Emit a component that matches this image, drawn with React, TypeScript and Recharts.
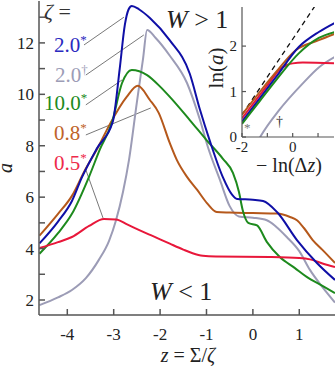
import React from "react";
import { LineChart, Line, XAxis, YAxis, ReferenceLine, CartesianGrid } from "recharts";

// main panel: a vs z = Sigma/zeta
const zBlue = [-4.6, -4.2, -3.9, -3.69, -3.36, -3.02, -2.87, -2.76, -2.68, -2.61, -2.45, -2.22, -1.79, -1.36, -1.14, -0.93, -0.65, -0.45, -0.34, 0.0, 0.22, 0.52, 0.95, 1.38, 1.77];
const aBlue = [4.2, 5.05, 5.85, 6.75, 7.9, 8.93, 11.0, 12.7, 13.3, 13.44, 13.3, 12.97, 12.1, 10.8, 9.4, 8.2, 6.79, 6.1, 5.93, 5.9, 5.85, 5.42, 4.33, 3.44, 2.78];

const zGrey = [-4.6, -4.2, -3.9, -3.6, -3.32, -3.1, -2.95, -2.8, -2.67, -2.5, -2.37, -2.28, -2.1, -1.79, -1.42, -1.14, -0.97, -0.71, -0.5, -0.3, 0.0, 0.3, 0.5, 0.73, 1.0, 1.23, 1.5, 1.77];
const aGrey = [1.8, 2.1, 2.39, 2.85, 3.56, 4.3, 5.1, 6.2, 7.45, 9.7, 11.35, 12.5, 12.2, 11.5, 10.44, 9.0, 7.95, 6.67, 5.65, 5.25, 5.2, 5.1, 4.85, 4.45, 3.9, 3.17, 2.5, 1.9];

const zGreen = [-4.6, -4.2, -3.9, -3.53, -3.3, -3.04, -2.82, -2.61, -2.28, -2.0, -1.79, -1.36, -0.99, -0.65, -0.43, -0.3, -0.22, -0.1, 0.09, 0.3, 0.58, 0.9, 1.16, 1.5, 1.77];
const aGreen = [3.8, 4.6, 5.35, 6.8, 7.85, 8.89, 10.44, 10.95, 10.75, 10.3, 9.9, 9.0, 8.2, 7.5, 6.94, 6.2, 5.5, 5.0, 4.9, 4.26, 3.67, 3.25, 2.9, 2.55, 2.27];

const zBrown = [-4.6, -4.2, -3.9, -3.62, -3.32, -3.08, -2.72, -2.48, -2.22, -2.03, -1.79, -1.64, -1.42, -1.2, -0.99, -0.78, -0.5, 0.0, 0.52, 0.8, 0.95, 1.1, 1.29, 1.5, 1.77];
const aBrown = [4.5, 5.35, 6.05, 7.05, 8.0, 8.85, 9.9, 10.33, 9.78, 9.28, 8.1, 7.45, 6.79, 6.28, 5.77, 5.42, 5.4, 5.38, 5.36, 5.23, 5.1, 4.8, 4.33, 3.95, 3.44];

const zRed = [-4.6, -4.2, -3.9, -3.53, -3.21, -2.95, -2.7, -2.46, -2.2, -2.0, -1.79, -1.5, -1.3, -1.08, -0.8, 0.37, 1.0, 1.23, 1.5, 1.77];
const aRed = [4.02, 4.25, 4.45, 4.88, 5.15, 5.13, 4.93, 4.73, 4.52, 4.36, 4.19, 3.96, 3.82, 3.72, 3.69, 3.67, 3.63, 3.58, 3.42, 3.28];

const xTicks = [-4, -3, -2, -1, 0, 1];
const yTicks = [2, 3, 4, 5, 6, 7, 8, 9, 10, 11, 12, 13];

// inset: ln(a) vs -ln(dz)
const ixRef = [-2, 0.9];
const iyRef = [0.49, 2.9];
const ixBlue = [-2, -1.3, -0.67, 0.24, 1.03, 1.66];
const iyBlue = [0.34, 0.85, 1.31, 1.98, 2.31, 2.51];
const ixBrown = [-2, -1.3, -0.67, 0.12, 1.03, 1.66];
const iyBrown = [0.49, 0.99, 1.42, 1.91, 2.13, 2.27];
const ixGreen = [-2, -1.3, -0.67, 0.24, 1.03, 1.66];
const iyGreen = [0.29, 0.79, 1.24, 1.84, 2.18, 2.31];
const ixRed = [-2, -1.3, -0.85, -0.55, -0.2, 0.0, 0.4, 1.66];
const iyRed = [0.41, 0.92, 1.25, 1.47, 1.59, 1.62, 1.64, 1.62];
const ixGrey = [-1.4, -1.26, -0.55, 0.4, 1.03, 1.66];
const iyGrey = [-0.12, 0.02, 0.58, 1.18, 1.53, 1.76];
const ixTicks = [-2, -1, 0, 1];
const iyTicks = [0, 1, 2];

const BLUE = "#0f0fa6";
const GREY = "#9c9cb6";
const GREEN = "#1d8a1d";
const BROWN = "#b5581b";
const RED = "#e8173a";
const AXIS = "#555";
const FONT = "'Liberation Serif', 'DejaVu Serif', serif";

const pts = (xs: number[], ys: number[]) => xs.map((x, i) => ({ x, y: ys[i] }));

const mainSeries = [
  { key: "grey", data: pts(zGrey, aGrey), color: GREY },
  { key: "brown", data: pts(zBrown, aBrown), color: BROWN },
  { key: "green", data: pts(zGreen, aGreen), color: GREEN },
  { key: "red", data: pts(zRed, aRed), color: RED },
  { key: "blue", data: pts(zBlue, aBlue), color: BLUE },
];

const insetSeries = [
  { key: "grey", data: pts(ixGrey, iyGrey), color: GREY },
  { key: "red", data: pts(ixRed, iyRed), color: RED },
  { key: "brown", data: pts(ixBrown, iyBrown), color: BROWN },
  { key: "blue", data: pts(ixBlue, iyBlue), color: BLUE },
  { key: "green", data: pts(ixGreen, iyGreen), color: GREEN },
];

// leader lines from the labels to the curves, in data units
const leaders = [
  [{ x: -3.64, y: 11.92 }, { x: -2.78, y: 13.0 }],
  [{ x: -3.6, y: 10.75 }, { x: -2.35, y: 12.31 }],
  [{ x: -3.6, y: 9.59 }, { x: -2.82, y: 10.56 }],
  [{ x: -3.6, y: 8.42 }, { x: -2.2, y: 9.47 }],
  [{ x: -3.6, y: 7.06 }, { x: -3.23, y: 5.19 }],
];

const tickStyle = { fontFamily: FONT, fontSize: 17, fill: "#222" };
const itickStyle = { fontFamily: FONT, fontSize: 15, fill: "#222" };

function Label({ x, y, color, main, sup }: { x: number; y: number; color: string; main: string; sup: string }) {
  return (
    <text x={x} y={y} fill={color} fontFamily={FONT} fontSize={21}>
      {main}
      <tspan dy={-8} fontSize={13}>{sup}</tspan>
    </text>
  );
}

export default function App() {
  return (
    <div style={{ position: "relative", width: 336, height: 367 }}>
      <style>{"body{margin:0}"}</style>
      <LineChart width={336} height={367} margin={{ top: 1, right: 1, bottom: 0, left: 0 }}>
        <XAxis
          dataKey="x"
          type="number"
          domain={[-4.61, 1.77]}
          allowDataOverflow
          ticks={xTicks}
          tickFormatter={(v) => String(v)}
          height={52}
          stroke={AXIS}
          strokeWidth={1.5}
          tickSize={-6}
          tickMargin={19}
          tick={tickStyle}
        />
        <XAxis
          xAxisId="top"
          orientation="top"
          dataKey="x"
          type="number"
          domain={[-4.61, 1.77]}
          allowDataOverflow
          ticks={xTicks}
          height={0}
          stroke={AXIS}
          strokeWidth={1.5}
          tickSize={-5}
          tick={false}
        />
        <YAxis
          dataKey="y"
          type="number"
          domain={[1.416, 13.63]}
          allowDataOverflow
          ticks={yTicks}
          tickFormatter={(v) => (v % 2 === 0 ? String(v) : "")}
          width={39}
          stroke={AXIS}
          strokeWidth={1.5}
          tickSize={-6}
          tickMargin={11}
          tick={tickStyle}
        />
        {leaders.map((seg, i) => (
          <ReferenceLine key={i} segment={seg} stroke="#555" strokeWidth={0.8} ifOverflow="visible" />
        ))}
        {mainSeries.map((s) => (
          <Line
            key={s.key}
            data={s.data}
            dataKey="y"
            type="monotone"
            stroke={s.color}
            strokeWidth={2}
            dot={false}
            isAnimationActive={false}
          />
        ))}
      </LineChart>

      <div style={{ position: "absolute", left: 215, top: 0 }}>
        <LineChart width={121} height={175} margin={{ top: 7, right: 2, bottom: 0, left: 0 }}>
          <CartesianGrid horizontal={false} vertical={false} fill="#fff" />
          <XAxis
            dataKey="x"
            type="number"
            domain={[-2, 1.63]}
            allowDataOverflow
            ticks={ixTicks}
            tickFormatter={(v) => (v === -2 || v === 0 ? String(v) : "")}
            height={38}
            stroke={AXIS}
            strokeWidth={1.2}
            tickSize={-4}
            tickMargin={8}
            tick={itickStyle}
          />
          <XAxis
            xAxisId="top"
            orientation="top"
            dataKey="x"
            type="number"
            domain={[-2, 1.63]}
            allowDataOverflow
            ticks={ixTicks}
            height={0}
            stroke={AXIS}
            strokeWidth={1.2}
            tickSize={-4}
            tick={false}
          />
          <YAxis
            dataKey="y"
            type="number"
            domain={[0, 2.86]}
            allowDataOverflow
            ticks={iyTicks}
            width={27}
            stroke={AXIS}
            strokeWidth={1.2}
            tickSize={-4}
            tickMargin={9}
            tick={itickStyle}
          />
          <Line
            data={pts(ixRef, iyRef)}
            dataKey="y"
            type="linear"
            stroke="#111"
            strokeWidth={1.3}
            strokeDasharray="5 4"
            dot={false}
            isAnimationActive={false}
          />
          {insetSeries.map((s) => (
            <Line
              key={s.key}
              data={s.data}
              dataKey="y"
              type="monotone"
              stroke={s.color}
              strokeWidth={2}
              dot={false}
              isAnimationActive={false}
            />
          ))}
        </LineChart>
      </div>

      <svg width={336} height={367} style={{ position: "absolute", left: 0, top: 0, pointerEvents: "none" }}>
        <text x={44} y={19} fontFamily={FONT} fontSize={22} fill="#333">
          <tspan fontStyle="italic">ζ</tspan> =
        </text>
        <Label x={54} y={52} color="#2a2ac0" main="2.0" sup="*" />
        <Label x={55} y={82} color="#9c9cb6" main="2.0" sup="†" />
        <Label x={44} y={110} color="#1d8a1d" main="10.0" sup="*" />
        <Label x={54} y={140} color="#c0632a" main="0.8" sup="*" />
        <Label x={54} y={170} color="#ee2a4a" main="0.5" sup="*" />
        <text x={166} y={28} fontFamily={FONT} fontSize={26} fill="#222">
          <tspan fontStyle="italic">W</tspan> &gt; 1
        </text>
        <text x={150} y={300} fontFamily={FONT} fontSize={26} fill="#222">
          <tspan fontStyle="italic">W</tspan> &lt; 1
        </text>
        <text x={0} y={0} transform="translate(12,168) rotate(-90)" textAnchor="middle" fontFamily={FONT} fontSize={20} fontStyle="italic" fill="#222">
          a
        </text>
        <text x={188} y={362} textAnchor="middle" fontFamily={FONT} fontSize={20} fill="#222">
          <tspan fontStyle="italic">z</tspan> = Σ/<tspan fontStyle="italic">ζ</tspan>
        </text>
        <text x={0} y={0} transform="translate(223,68) rotate(-90)" textAnchor="middle" fontFamily={FONT} fontSize={21} fill="#222">
          ln(<tspan fontStyle="italic">a</tspan>)
        </text>
        <text x={289} y={172} textAnchor="middle" fontFamily={FONT} fontSize={20} fill="#222">
          − ln(Δ<tspan fontStyle="italic">z</tspan>)
        </text>
        <text x={244} y={132} fontFamily={FONT} fontSize={13} fill="#777">*</text>
        <text x={276} y={126} fontFamily={FONT} fontSize={14} fill="#333">†</text>
      </svg>
    </div>
  );
}
